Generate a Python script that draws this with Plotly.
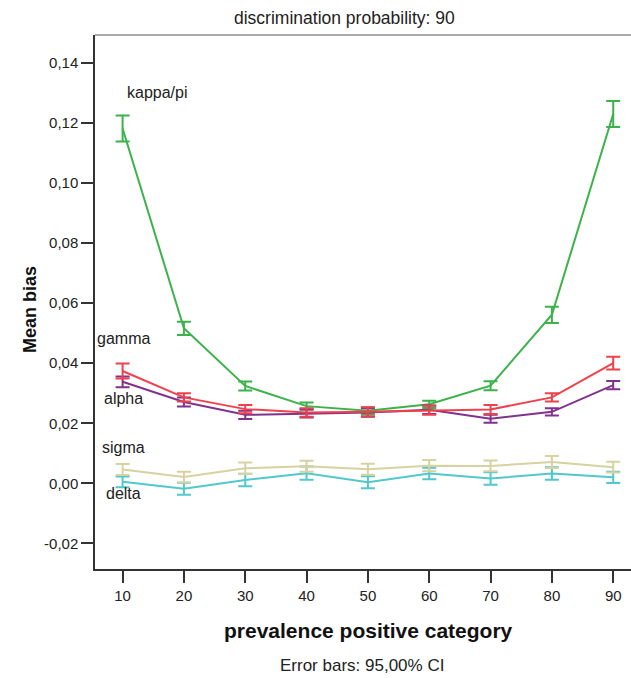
import plotly.graph_objects as go

prevalence = [10, 20, 30, 40, 50, 60, 70, 80, 90]

kappa_mean = [0.1181, 0.0516, 0.0324, 0.0257, 0.0242, 0.0263, 0.0325, 0.0561, 0.1229]
kappa_ci = [0.0043, 0.0022, 0.0015, 0.0012, 0.0011, 0.0012, 0.0015, 0.0027, 0.0043]

gamma_mean = [0.0374, 0.0286, 0.0247, 0.0236, 0.0238, 0.0243, 0.0246, 0.0286, 0.0400]
gamma_ci = [0.0025, 0.0014, 0.0014, 0.0014, 0.0015, 0.0015, 0.0015, 0.0014, 0.0021]

alpha_mean = [0.0338, 0.0271, 0.0228, 0.0233, 0.0236, 0.0245, 0.0215, 0.0238, 0.0327]
alpha_ci = [0.0018, 0.0015, 0.0014, 0.0014, 0.0014, 0.0014, 0.0013, 0.0012, 0.0014]

sigma_mean = [0.0046, 0.0021, 0.0050, 0.0057, 0.0047, 0.0059, 0.0058, 0.0071, 0.0054]
sigma_ci = [0.0018, 0.0018, 0.0019, 0.0018, 0.0018, 0.0019, 0.0018, 0.0020, 0.0018]

delta_mean = [0.0005, -0.0018, 0.0011, 0.0034, 0.0004, 0.0033, 0.0016, 0.0033, 0.0020]
delta_ci = [0.0018, 0.0020, 0.0021, 0.0022, 0.0020, 0.0019, 0.0021, 0.0021, 0.0019]

y_tickvals = [-0.02, 0, 0.02, 0.04, 0.06, 0.08, 0.10, 0.12, 0.14]
y_ticktext = ["-0,02", "0,00", "0,02", "0,04", "0,06", "0,08", "0,10", "0,12", "0,14"]

series = [
    ("delta", delta_mean, delta_ci, "rgb(80,200,205)"),
    ("sigma", sigma_mean, sigma_ci, "rgb(215,210,160)"),
    ("kappa/pi", kappa_mean, kappa_ci, "rgb(60,178,75)"),
    ("alpha", alpha_mean, alpha_ci, "rgb(128,50,140)"),
    ("gamma", gamma_mean, gamma_ci, "rgb(240,65,75)"),
]

FONT = "Liberation Sans, Arial, sans-serif"
W, H, L, T, B = 631, 678, 95, 35, 109
PW, PH = W - L, H - T - B

fig = go.Figure()
for name, m, ci, col in series:
    fig.add_trace(go.Scatter(
        x=prevalence, y=m, mode="lines", name=name,
        line=dict(color=col, width=2),
        error_y=dict(type="data", array=ci, visible=True, color=col, thickness=2, width=7),
        showlegend=False,
    ))

labels = [
    ("kappa/pi", 15.7, 0.1300),
    ("gamma", 10.2, 0.0483),
    ("alpha", 10.2, 0.0284),
    ("sigma", 10.2, 0.0118),
    ("delta", 10.2, -0.0035),
]
for txt, lx, ly in labels:
    fig.add_annotation(x=lx, y=ly, xref="x", yref="y", text=txt, showarrow=False,
                       font=dict(family=FONT, size=16, color="#222"))

fig.add_annotation(x=(344 - L) / PW, y=1, xref="paper", yref="paper",
                   text="discrimination probability: 90", showarrow=False,
                   yshift=17, yanchor="middle",
                   font=dict(family=FONT, size=17.5, color="#222"))
fig.add_annotation(x=(362 - L) / PW, y=0, xref="paper", yref="paper",
                   text="Error bars: 95,00% CI", showarrow=False, yshift=-(665 - (H - B)),
                   yanchor="middle",
                   font=dict(family=FONT, size=17, color="#222"))
fig.add_annotation(x=(368 - L) / PW, y=0, xref="paper", yref="paper",
                   text="<b>prevalence positive category</b>", showarrow=False,
                   yshift=-(630 - (H - B)), yanchor="middle",
                   font=dict(family=FONT, size=21, color="#111"))
fig.add_annotation(x=(30 - L) / PW, y=((H - B) - 310) / PH, xref="paper", yref="paper",
                   text="<b>Mean bias</b>", showarrow=False, textangle=-90,
                   xanchor="center", yanchor="middle",
                   font=dict(family=FONT, size=18, color="#111"))

fig.update_layout(
    width=W, height=H,
    margin=dict(l=L, r=0, t=T, b=B),
    paper_bgcolor="white", plot_bgcolor="white",
    font=dict(family=FONT, size=15, color="#222"),
    shapes=[dict(type="line", xref="paper", yref="paper", x0=0, x1=1, y0=1, y1=1,
                 line=dict(color="#aaaaaa", width=2))],
)

fig.update_xaxes(
    range=[5.5, 92.9], tickvals=prevalence, ticks="outside", ticklen=12, tickwidth=2,
    tickcolor="#333", showline=True, linecolor="#333", linewidth=1.5, showgrid=False,
    zeroline=False, tickfont=dict(size=15),
)
fig.update_yaxes(
    range=[-0.0285, 0.1492], tickvals=y_tickvals, ticktext=y_ticktext,
    ticks="outside", ticklen=12, tickwidth=2, tickcolor="#333",
    showline=True, linecolor="#333", linewidth=1.5, showgrid=False, zeroline=False,
    tickfont=dict(size=15),
)

fig.write_html("out.html", config={"displayModeBar": False},
               post_script="document.body.style.margin='0';document.body.style.overflow='hidden';")
